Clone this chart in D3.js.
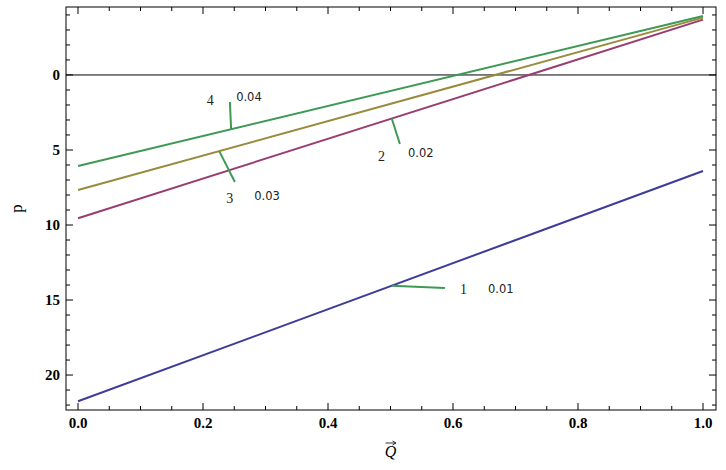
<!DOCTYPE html>
<html>
<head>
<meta charset="utf-8">
<script src="https://cdn.jsdelivr.net/npm/d3@7"></script>
<style>
  body { margin: 0; background: #fff; }
  svg { display: block; }
</style>
</head>
<body>
<svg width="726" height="470"></svg>
<script>
// data
var seriesQ = [0, 1];
var p1 = [21.75, 6.4];
var p2 = [9.55, -3.69];
var p3 = [7.67, -3.82];
var p4 = [6.07, -3.93];
var seriesColors = ["#3d3d99", "#993d71", "#998b3d", "#3d9954"];

var xTicks = [0, 0.2, 0.4, 0.6, 0.8, 1.0];
var yTicks = [0, 5, 10, 15, 20];

// callouts: curve anchor q, far end (q,p), number label (q,p), value label (q,p)
var calloutNums = ["1", "2", "3", "4"];
var calloutVals = ["0.01", "0.02", "0.03", "0.04"];
var calloutAnchorQ = [0.502, 0.502, 0.226, 0.245];
var calloutEnd = [[0.587, 14.2], [0.515, 4.6], [0.251, 7.13], [0.243, 1.8]];
var calloutNumPos = [[0.611, 14.6], [0.48, 5.73], [0.237, 8.53], [0.206, 2.0]];
var calloutValPos = [[0.656, 14.53], [0.528, 5.47], [0.282, 8.33], [0.253, 1.73]];

var svg = d3.select("svg");
var fLeft = 66, fRight = 716, fTop = 7, fBottom = 410;

var x = d3.scaleLinear().domain([-0.0192, 1.0208]).range([fLeft, fRight]);
var y = d3.scaleLinear().domain([-4.53, 22.33]).range([fTop, fBottom]);

var series = [p1, p2, p3, p4];

// zero line
svg.append("line")
    .attr("x1", fLeft).attr("x2", fRight)
    .attr("y1", y(0)).attr("y2", y(0))
    .attr("stroke", "#000").attr("stroke-width", 1);

var line = d3.line()
    .x(function(d, i) { return x(seriesQ[i]); })
    .y(function(d) { return y(d); });

svg.append("g").selectAll("path")
    .data(series)
    .enter().append("path")
    .attr("d", function(d) { return line(d); })
    .attr("fill", "none")
    .attr("stroke", function(d, i) { return seriesColors[i]; })
    .attr("stroke-width", 2);

// callouts
function valueAt(s, q) {
    return s[0] + (s[1] - s[0]) * (q - seriesQ[0]) / (seriesQ[1] - seriesQ[0]);
}
var cg = svg.append("g");
calloutNums.forEach(function(n, i) {
    var q = calloutAnchorQ[i];
    cg.append("line")
        .attr("x1", x(q)).attr("y1", y(valueAt(series[i], q)))
        .attr("x2", x(calloutEnd[i][0])).attr("y2", y(calloutEnd[i][1]))
        .attr("stroke", "#3d9954").attr("stroke-width", 2);
    cg.append("text")
        .attr("x", x(calloutNumPos[i][0])).attr("y", y(calloutNumPos[i][1]))
        .style("font-family", "Liberation Serif, serif")
        .style("font-size", "14px")
        .style("fill", "#222")
        .text(n);
    cg.append("text")
        .attr("x", x(calloutValPos[i][0])).attr("y", y(calloutValPos[i][1]))
        .style("font-family", "DejaVu Sans, sans-serif")
        .style("font-size", "11.5px")
        .style("fill", "#222")
        .text(calloutVals[i]);
});

// frame
svg.append("rect")
    .attr("x", fLeft).attr("y", fTop)
    .attr("width", fRight - fLeft).attr("height", fBottom - fTop)
    .attr("fill", "none").attr("stroke", "#000").attr("stroke-width", 1);

var minorX = d3.range(0, 1.0001, 0.05);
var minorY = d3.range(-4, 22.5, 1);
var tg = svg.append("g").attr("stroke", "#000").attr("stroke-width", 1);
function isMajorX(v) { return Math.abs(v * 5 - Math.round(v * 5)) < 1e-6; }
minorX.forEach(function(v) {
    var len = isMajorX(v) ? 7 : 4;
    tg.append("line").attr("x1", x(v)).attr("x2", x(v)).attr("y1", fBottom).attr("y2", fBottom - len);
    tg.append("line").attr("x1", x(v)).attr("x2", x(v)).attr("y1", fTop).attr("y2", fTop + len);
});
minorY.forEach(function(v) {
    var len = (v % 5 === 0) ? 7 : 4;
    tg.append("line").attr("x1", fLeft).attr("x2", fLeft + len).attr("y1", y(v)).attr("y2", y(v));
    tg.append("line").attr("x1", fRight).attr("x2", fRight - len).attr("y1", y(v)).attr("y2", y(v));
});

// tick labels
svg.append("g").selectAll("text")
    .data(xTicks)
    .enter().append("text")
    .attr("x", function(d) { return x(d); })
    .attr("y", fBottom + 18)
    .attr("text-anchor", "middle")
    .style("font-family", "Liberation Serif, serif")
    .style("font-size", "15px")
    .style("font-weight", "bold")
    .text(function(d) { return d3.format(".1f")(d); });

svg.append("g").selectAll("text")
    .data(yTicks)
    .enter().append("text")
    .attr("x", fLeft - 6)
    .attr("y", function(d) { return y(d) + 5; })
    .attr("text-anchor", "end")
    .style("font-family", "Liberation Serif, serif")
    .style("font-size", "15px")
    .style("font-weight", "bold")
    .text(function(d) { return d; });

// axis labels
var qx = (x(0) + x(1)) / 2;
svg.append("text")
    .attr("x", qx).attr("y", fBottom + 47)
    .attr("text-anchor", "middle")
    .style("font-family", "Liberation Serif, serif")
    .style("font-size", "16px")
    .style("font-style", "italic")
    .text("Q");
svg.append("line")
    .attr("x1", qx - 5).attr("x2", qx + 5)
    .attr("y1", fBottom + 33).attr("y2", fBottom + 33)
    .attr("stroke", "#000").attr("stroke-width", 0.8);
svg.append("path")
    .attr("d", "M" + (qx + 2) + "," + (fBottom + 31) + "L" + (qx + 5.5) + "," + (fBottom + 33) + "L" + (qx + 2) + "," + (fBottom + 35))
    .attr("fill", "none").attr("stroke", "#000").attr("stroke-width", 0.8);

svg.append("text")
    .attr("transform", "translate(22," + ((fTop + fBottom) / 2) + ") rotate(-90)")
    .attr("text-anchor", "middle")
    .style("font-family", "Liberation Serif, serif")
    .style("font-size", "17px")
    .text("p");
</script>
</body>
</html>
